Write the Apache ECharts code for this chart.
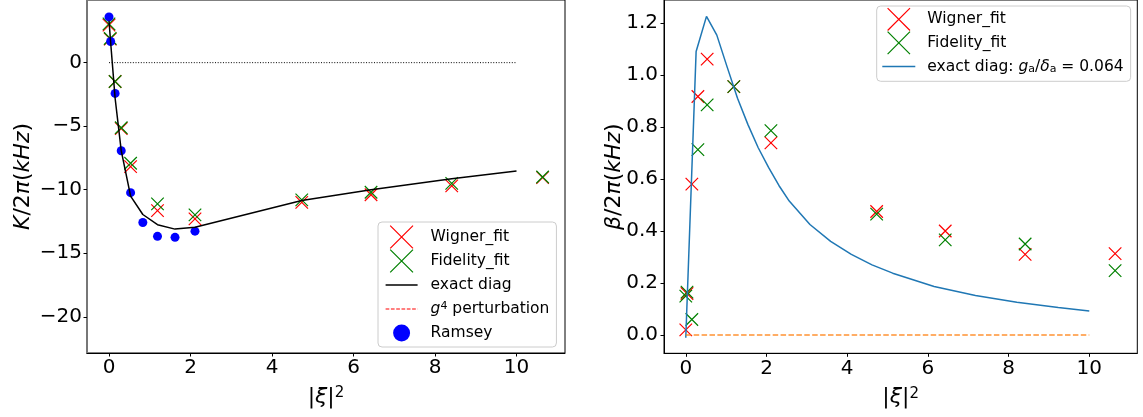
<!DOCTYPE html>
<html><head><meta charset="utf-8">
<script src="https://cdn.jsdelivr.net/npm/echarts@6/dist/echarts.min.js"></script>
<style>html,body{margin:0;padding:0;background:#fff}#c{width:1143px;height:417px}</style>
</head><body><div id="c"></div>
<script>
// ---------- data ----------
const xiFit = [0, 0.03, 0.15, 0.30, 0.53, 1.19, 2.11, 4.73, 6.43, 8.41, 10.64];
const kWigner = [2.95, 1.85, -1.48, -5.18, -8.18, -11.64, -12.3, -11.0, -10.4, -9.7, -9.05];
const kFidelity = [3.05, 1.9, -1.48, -5.12, -7.92, -11.12, -11.98, -10.8, -10.2, -9.5, -9.0];
const ramseyX = [0.0, 0.04, 0.15, 0.30, 0.53, 0.83, 1.19, 1.62, 2.11];
const ramseyK = [3.6, 1.66, -2.42, -6.93, -10.23, -12.58, -13.67, -13.75, -13.26];
const diagX = [0, 0.04, 0.15, 0.30, 0.53, 0.83, 1.19, 1.62, 2.11, 4.73, 6.43, 8.41, 10.0];
const diagK = [3.3, 1.6, -2.8, -6.93, -10.5, -11.95, -12.75, -13.1, -12.96, -10.85, -10.0, -9.13, -8.53];
const zeroX = [0, 10];
const zeroK = [0, 0];
const g4K = [];
const betaWigner = [0.02, 0.16, 0.58, 0.917, 1.061, 0.955, 0.739, 0.475, 0.40, 0.31, 0.313];
const betaFidelity = [0.15, 0.165, 0.06, 0.713, 0.885, 0.955, 0.786, 0.465, 0.366, 0.35, 0.248];
const betaDiagX = [0, 0.256, 0.513, 0.769, 1.026, 1.282, 1.538, 1.795, 2.051, 2.308, 2.564, 3.077, 3.59, 4.103, 4.615, 5.128, 6.154, 7.179, 8.205, 9.231, 10.0];
const betaDiag = [-0.01, 1.09, 1.225, 1.153, 1.03, 0.91, 0.81, 0.72, 0.645, 0.575, 0.515, 0.425, 0.36, 0.31, 0.27, 0.238, 0.187, 0.152, 0.126, 0.106, 0.093];
const betaG4 = [0, 0];
const xTicks = [0, 2, 4, 6, 8, 10];
const kTicks = [-20, -15, -10, -5, 0];
const betaTicks = [0, 0.2, 0.4, 0.6, 0.8, 1.0, 1.2];

// ---------- helpers ----------
const FONT = 'DejaVu Sans';
const pairs = (xs, ys) => ys.map((y, i) => [xs[i], y]);
const CROSS = 'path://M0,0L10,10M10,0L0,10';
const CLEAR = 'rgba(0,0,0,0)';
function crossIcon(w, h, s) { const a = (w - s) / 2, b = (h - s) / 2; return `path://M0,0M${w},${h}M${a},${b}L${a + s},${b + s}M${a + s},${b}L${a},${b + s}`; }
function lineIcon(w, h, lw) { const t = h / 2 - lw / 2, u = h / 2 + lw / 2; return `path://M0,0M${w},${h}M0,${t}L${w},${t}L${w},${u}L0,${u}Z`; }
function dashIcon(w, h, lw, d, g) { const t = h / 2 - lw / 2, u = h / 2 + lw / 2; let p = `path://M0,0M${w},${h}`; for (let x = 0; x < w; x += d + g) { const e = Math.min(x + d, w); p += `M${x},${t}L${e},${t}L${e},${u}L${x},${u}Z`; } return p; }
function circleIcon(w, h, r) { const cx = w / 2, cy = h / 2; return `path://M0,0M${w},${h}M${cx + r},${cy}A${r},${r},0,1,1,${cx - r},${cy}A${r},${r},0,1,1,${cx + r},${cy}Z`; }

const tickLabel = { fontFamily: FONT, fontSize: 20, color: '#000' };
const richBase = {
  i: { fontFamily: FONT, fontStyle: 'italic', fontSize: 22, color: '#000' },
  sup: { fontFamily: FONT, fontSize: 15, verticalAlign: 'top', color: '#000' }
};
const nameStyle = { fontFamily: FONT, fontSize: 22, color: '#000', rich: richBase };
const LF = 15.5;
const legRich = {
  i: { fontFamily: FONT, fontStyle: 'italic', fontSize: LF, color: '#000' },
  sup: { fontFamily: FONT, fontSize: 11, verticalAlign: 'top', color: '#000' },
  sub: { fontFamily: FONT, fontSize: 11, verticalAlign: 'bottom', color: '#000' }
};
const legendNames = {
  'g4 perturbation': '{i|g}{sup|4} perturbation',
  'exact diag: ga/da = 0.064': 'exact diag: {i|g}{sub|a}/{i|δ}{sub|a} = 0.064'
};
const SW = 1.2;
const crossStyle = c => ({ color: CLEAR, borderColor: c, borderWidth: SW });
const fillStyle = c => ({ color: c, borderColor: CLEAR, borderWidth: SW });

function xAxis(gi) {
  return {
    type: 'value', gridIndex: gi, min: -0.54, max: 11.19,
    name: '|{i|ξ}|{sup|2}', nameLocation: 'middle', nameGap: 33, nameTextStyle: nameStyle, nameMoveOverlap: false,
    axisLine: { show: true, onZero: false, lineStyle: { color: '#000', width: 1 } },
    axisTick: { show: true, length: 3.5, customValues: xTicks, lineStyle: { color: '#000' } },
    axisLabel: Object.assign({ margin: 5, customValues: xTicks, formatter: v => String(v) }, tickLabel),
    splitLine: { show: false }
  };
}

const option = {
  animation: false,
  backgroundColor: '#fff',
  grid: [
    { left: 87, top: -2, width: 478, height: 355, show: true, borderColor: '#000', borderWidth: 1, backgroundColor: 'transparent' },
    { left: 664, top: -2, width: 473.3, height: 355.3, show: true, borderColor: '#000', borderWidth: 1, backgroundColor: 'transparent' }
  ],
  xAxis: [xAxis(0), xAxis(1)],
  yAxis: [
    {
      type: 'value', gridIndex: 0, min: -22.85, max: 4.93,
      name: '{i|K}/2{i|π}({i|kHz})', nameLocation: 'middle', nameGap: 53, nameTextStyle: nameStyle, nameMoveOverlap: false,
      axisLine: { show: true, onZero: false, lineStyle: { color: '#777', width: 2 } },
      axisTick: { show: true, length: 3.5, customValues: kTicks, lineStyle: { color: '#000' } },
      axisLabel: Object.assign({ margin: 5, customValues: kTicks, formatter: v => String(v).replace('-', '\u2212') }, tickLabel),
      splitLine: { show: false }
    },
    {
      type: 'value', gridIndex: 1, min: -0.07, max: 1.288,
      name: '{i|β}/2{i|π}({i|kHz})', nameLocation: 'middle', nameGap: 39, nameTextStyle: nameStyle, nameMoveOverlap: false,
      axisLine: { show: true, onZero: false, lineStyle: { color: '#000', width: 1 } },
      axisTick: { show: true, length: 3.5, customValues: betaTicks, lineStyle: { color: '#000' } },
      axisLabel: Object.assign({ margin: 6, customValues: betaTicks, formatter: v => v.toFixed(1) }, tickLabel),
      splitLine: { show: false }
    }
  ],
  legend: [
    {
      orient: 'vertical', left: 378, top: 222, padding: [3, 7, 2, 7], itemGap: 0, itemWidth: 32, itemHeight: 22.8,
      backgroundColor: 'rgba(255,255,255,0.8)', borderColor: '#cccccc', borderWidth: 1, borderRadius: 4,
      textStyle: { fontFamily: FONT, fontSize: LF, color: '#000', padding: [0, 0, 0, 8], rich: legRich },
      formatter: n => legendNames[n] || n, selectedMode: false,
      data: [
        { name: 'Wigner_fit', icon: crossIcon(32, 22.8, 22.8), itemStyle: crossStyle('red') },
        { name: 'Fidelity_fit', icon: crossIcon(32, 22.8, 22.8), itemStyle: crossStyle('green') },
        { name: 'exact diag', icon: lineIcon(32, 22.8, 1.5), itemStyle: fillStyle('#000') },
        { name: 'g4 perturbation', icon: dashIcon(32, 22.8, 1.2, 3.7, 1.6), itemStyle: fillStyle('red') },
        { name: 'Ramsey', icon: circleIcon(32, 22.8, 8.5), itemStyle: fillStyle('blue') }
      ]
    },
    {
      orient: 'vertical', left: 876.7, top: 6, padding: [1.5, 7, 3, 5], itemGap: 0, itemWidth: 33, itemHeight: 22.4,
      backgroundColor: 'rgba(255,255,255,0.8)', borderColor: '#cccccc', borderWidth: 1, borderRadius: 4,
      textStyle: { fontFamily: FONT, fontSize: LF, color: '#000', padding: [0, 0, 0, 7], rich: legRich },
      formatter: n => legendNames[n] || n, selectedMode: false,
      data: [
        { name: 'Wigner_fit', icon: crossIcon(33, 22.4, 22.4), itemStyle: crossStyle('red') },
        { name: 'Fidelity_fit', icon: crossIcon(33, 22.4, 22.4), itemStyle: crossStyle('green') },
        { name: 'exact diag: ga/da = 0.064', icon: lineIcon(33, 22.4, 1.5), itemStyle: fillStyle('#1f77b4') }
      ]
    }
  ],
  series: [
    { name: 'Wigner_fit', type: 'scatter', xAxisIndex: 0, yAxisIndex: 0, symbol: CROSS, symbolSize: 12.5,
      itemStyle: { color: CLEAR, borderColor: 'red', borderWidth: 1.2, opacity: 1 }, data: pairs(xiFit, kWigner) },
    { name: 'Fidelity_fit', type: 'scatter', xAxisIndex: 0, yAxisIndex: 0, symbol: CROSS, symbolSize: 12.5,
      itemStyle: { color: CLEAR, borderColor: 'green', borderWidth: 1.2, opacity: 1 }, data: pairs(xiFit, kFidelity) },
    { name: 'exact diag', type: 'line', xAxisIndex: 0, yAxisIndex: 0, symbol: 'none', smooth: false,
      lineStyle: { color: '#000', width: 1.5 }, itemStyle: { color: '#000' }, data: pairs(diagX, diagK) },
    { name: 'g4 perturbation', type: 'line', xAxisIndex: 0, yAxisIndex: 0, symbol: 'none',
      lineStyle: { color: 'red', width: 1.2, type: [3.7, 1.6] }, itemStyle: { color: 'red' }, data: pairs(zeroX, g4K) },
    { name: 'zero', type: 'line', xAxisIndex: 0, yAxisIndex: 0, symbol: 'none',
      lineStyle: { color: '#000', width: 1, type: [1, 1.65] }, data: pairs(zeroX, zeroK) },
    { name: 'Ramsey', type: 'scatter', xAxisIndex: 0, yAxisIndex: 0, symbol: 'circle', symbolSize: 9,
      itemStyle: { color: 'blue', opacity: 1 }, data: pairs(ramseyX, ramseyK) },

    { name: 'Wigner_fit', type: 'scatter', xAxisIndex: 1, yAxisIndex: 1, symbol: CROSS, symbolSize: 12.5,
      itemStyle: { color: CLEAR, borderColor: 'red', borderWidth: 1.2, opacity: 1 }, data: pairs(xiFit, betaWigner) },
    { name: 'Fidelity_fit', type: 'scatter', xAxisIndex: 1, yAxisIndex: 1, symbol: CROSS, symbolSize: 12.5,
      itemStyle: { color: CLEAR, borderColor: 'green', borderWidth: 1.2, opacity: 1 }, data: pairs(xiFit, betaFidelity) },
    { name: 'exact diag: ga/da = 0.064', type: 'line', xAxisIndex: 1, yAxisIndex: 1, symbol: 'none',
      lineStyle: { color: '#1f77b4', width: 1.5 }, itemStyle: { color: '#1f77b4' }, data: pairs(betaDiagX, betaDiag) },
    { name: 'g4 beta', type: 'line', xAxisIndex: 1, yAxisIndex: 1, symbol: 'none',
      lineStyle: { color: '#ff7f0e', width: 1.5, type: [5.5, 2.4], opacity: 0.85 }, data: pairs(zeroX, betaG4) }
  ]
};
const chart = echarts.init(document.getElementById('c'), null, { renderer: 'canvas' });
chart.setOption(option);
</script>
</body></html>
